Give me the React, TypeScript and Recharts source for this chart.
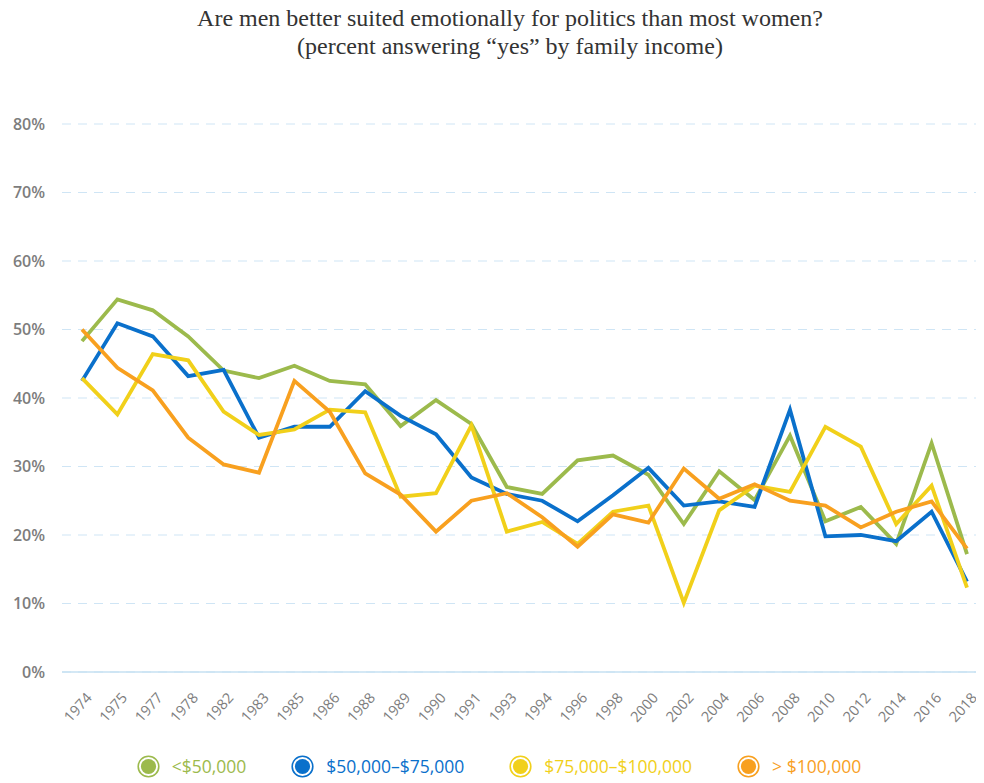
import React from "react";
import {
  LineChart,
  Line,
  XAxis,
  YAxis,
  CartesianGrid,
  Legend,
} from "recharts";

const years = [
  "1974", "1975", "1977", "1978", "1982", "1983", "1985", "1986", "1988",
  "1989", "1990", "1991", "1993", "1994", "1996", "1998", "2000", "2002",
  "2004", "2006", "2008", "2010", "2012", "2014", "2016", "2018",
];

const under50k = [
  48.3, 54.4, 52.8, 49, 44, 42.9, 44.7, 42.5, 42, 35.9, 39.7, 36.2, 27, 26,
  30.9, 31.6, 28.8, 21.6, 29.3, 25.1, 34.5, 22, 24.1, 18.7, 33.4, 17.2,
];
const from50to75k = [
  42.5, 50.9, 49, 43.2, 44.1, 34.2, 35.8, 35.8, 41, 37.4, 34.7, 28.4, 26, 25,
  22, 25.8, 29.8, 24.3, 24.9, 24.1, 38.3, 19.8, 20, 19.1, 23.4, 13.2,
];
const from75to100k = [
  42.9, 37.6, 46.4, 45.5, 38, 34.6, 35.4, 38.3, 37.9, 25.6, 26.1, 36, 20.5,
  21.9, 18.7, 23.4, 24.3, 10.1, 23.6, 27.2, 26.3, 35.8, 32.9, 21.6, 27.2, 12.3,
];
const over100k = [
  50, 44.4, 41.1, 34.2, 30.3, 29.1, 42.5, 38, 29, 25.9, 20.5, 25, 26.1, 22.6,
  18.3, 23, 21.8, 29.7, 25.3, 27.4, 25, 24.3, 21.1, 23.4, 24.9, 18,
];

const yTicks = [0, 10, 20, 30, 40, 50, 60, 70, 80];

const series = [
  { key: "a", name: "<$50,000", color: "#9cba4c" },
  { key: "b", name: "$50,000–$75,000", color: "#0a70cb" },
  { key: "c", name: "$75,000–$100,000", color: "#f1d01a" },
  { key: "d", name: "> $100,000", color: "#f8a01f" },
];

const data = years.map((year, i) => ({
  year,
  a: under50k[i],
  b: from50to75k[i],
  c: from75to100k[i],
  d: over100k[i],
}));

const font = "'Open Sans', 'DejaVu Sans', sans-serif";

function YearTick({ x, y, payload }: any) {
  return (
    <g transform={`translate(${x + 7},${y + 15})`}>
      <text
        transform="rotate(-48)"
        textAnchor="end"
        dy="0.35em"
        fill="#7d7d7d"
        fontSize={14.5}
        fontFamily={font}
      >
        {payload.value}
      </text>
    </g>
  );
}

function LegendBox() {
  return (
    <div
      style={{
        display: "flex",
        justifyContent: "center",
        alignItems: "center",
        gap: 45,
        height: 40,
        paddingTop: 6,
        paddingLeft: 6,
        boxSizing: "border-box",
        fontFamily: font,
        fontSize: 17.5,
      }}
    >
      {series.map((s) => (
        <div key={s.key} style={{ display: "flex", alignItems: "center", gap: 12 }}>
          <svg width={23} height={23} style={{ display: "block" }}>
            <circle cx={11.5} cy={11.5} r={10.3} fill="#fff" stroke={s.color} strokeWidth={1.6} />
            <circle cx={11.5} cy={11.5} r={7.6} fill={s.color} />
          </svg>
          <span style={{ color: s.color }}>{s.name}</span>
        </div>
      ))}
    </div>
  );
}

export default function App() {
  return (
    <div style={{ width: 976 }}>
      <div
        style={{
          marginTop: -4,
          textAlign: "center",
          fontFamily: "'Liberation Serif', serif",
          fontSize: 24,
          lineHeight: "28px",
          color: "#333",
          paddingLeft: 28,
        }}
      >
        Are men better suited emotionally for politics than most women?
        <br />
        (percent answering “yes” by family income)
      </div>
      <LineChart
        width={976}
        height={723}
        data={data}
        margin={{ top: 64, right: 0, bottom: 0, left: 0 }}
      >
        <CartesianGrid
          vertical={false}
          stroke="#cfe5f5"
          strokeDasharray="9 7"
        />
        <XAxis
          dataKey="year"
          interval={0}
          height={71}
          padding={{ left: 20, right: 17 }}
          axisLine={{ stroke: "#c6e0f2", strokeWidth: 1.5 }}
          tickLine={false}
          tick={<YearTick />}
        />
        <YAxis
          width={54}
          domain={[0, 80]}
          ticks={yTicks}
          interval={0}
          axisLine={false}
          tickLine={false}
          tickSize={0}
          tickMargin={17}
          tickFormatter={(v: number) => `${v}%`}
          tick={{ fill: "#7d7d7d", fontSize: 16, fontWeight: 600, fontFamily: font }}
        />
        <Legend verticalAlign="bottom" height={40} content={<LegendBox />} />
        {series.map((s) => (
          <Line
            key={s.key}
            dataKey={s.key}
            name={s.name}
            stroke={s.color}
            strokeWidth={3.8}
            dot={false}
            activeDot={false}
            type="linear"
            isAnimationActive={false}
          />
        ))}
      </LineChart>
    </div>
  );
}
